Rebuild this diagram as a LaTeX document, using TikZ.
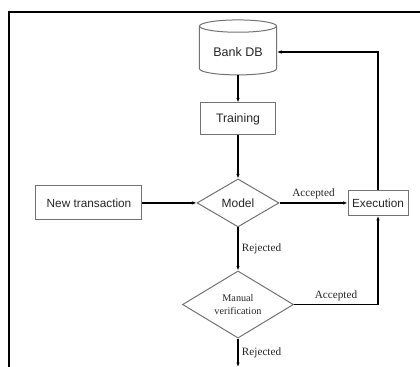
\documentclass[tikz,border=0pt]{standalone}
\usepackage{fontspec}
\setmainfont{Liberation Serif}
\newfontfamily\boxfont{Liberation Sans}
\usetikzlibrary{arrows.meta, positioning, shapes.geometric}

\begin{document}
\begin{tikzpicture}[x=1bp, y=-1bp,
        block/.style={draw=black!55, line width=1bp, rectangle, align=center, text=black!85, font=\boxfont\fontsize{11.8bp}{13bp}\selectfont},
        decision/.style={draw=black!55, line width=1bp, diamond, align=center, inner sep=0pt, text=black!85},
        arrow/.style={-{Latex[length=4.5bp, width=3.5bp]}, line width=1.3bp},
        lbl/.style={font=\fontsize{11.2bp}{12bp}\selectfont, text=black!85}
    ]

    \useasboundingbox (0,0) rectangle (420,367);
    % frame
    \draw[line width=2bp] (9,367) -- (9,12) -- (420,12);

    % Nodes
    \node[draw=black!55, line width=1bp, cylinder, shape border rotate=90, aspect=0.22, minimum width=77bp, minimum height=55bp,
          text=black!85, font=\boxfont\fontsize{12.5bp}{13bp}\selectfont] (db) at (238,52) {Bank DB};
    \node[block, minimum width=75bp, minimum height=32bp, below=27bp of db, font=\boxfont\fontsize{12.3bp}{13bp}\selectfont] (training) {Training};
    \node[decision, minimum width=82bp, minimum height=48bp, below=43bp of training,
          font=\boxfont\fontsize{12bp}{13bp}\selectfont] (model) {Model};
    \node[block, minimum width=106bp, minimum height=34bp, left=54bp of model] (newtx) {New transaction};
    \node[block, minimum width=60bp, minimum height=25bp, right=68bp of model, inner sep=2bp] (exec) {Execution};
    \node[decision, minimum width=111bp, minimum height=63bp, below=43bp of model,
          font=\fontsize{10.2bp}{13bp}\selectfont] (manual) {Manual\\verification};
    \coordinate (out) at (manual.south |- 0,367);

    % Arrows
    \draw[arrow] (db) -- (training);
    \draw[arrow] (training) -- (model);
    \draw[arrow] (newtx) -- (model);
    \draw[arrow] (model) -- node[lbl, above] {Accepted} (exec);
    \draw[arrow] (model) -- node[lbl, right] {Rejected} (manual);
    \draw[arrow] (manual.east) -| node[lbl, above, pos=0.25] {Accepted} (exec.south);
    \draw[arrow] (exec.north) |- (db.east);
    \draw[arrow] (manual) -- node[lbl, right] {Rejected} (out);

\end{tikzpicture}
\end{document}
